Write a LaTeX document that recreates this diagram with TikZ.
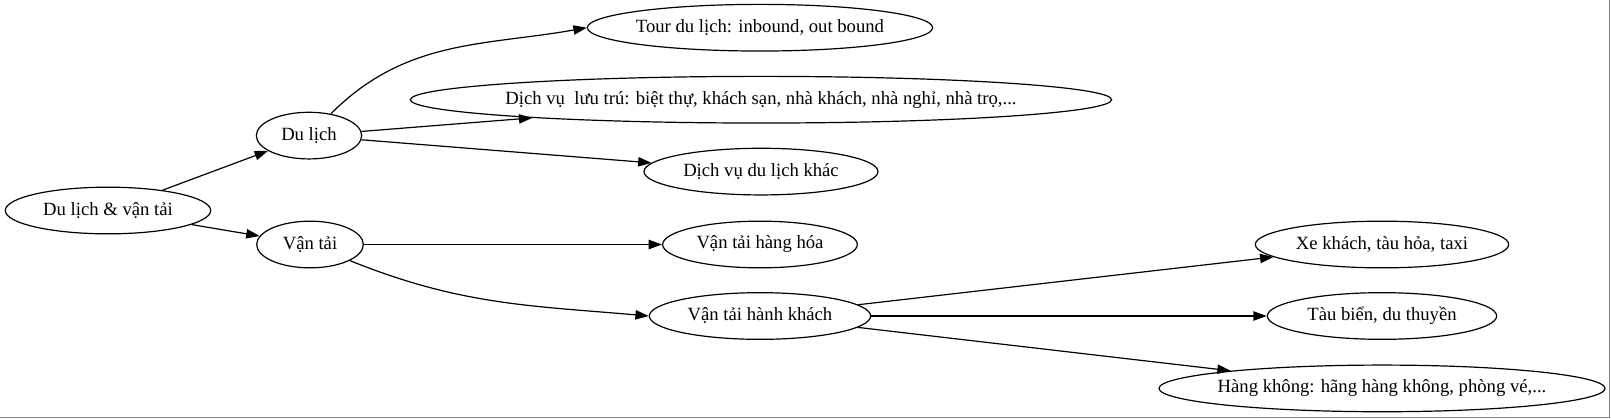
\documentclass[tikz,border=0pt]{standalone}
\usepackage{fontspec}
\setmainfont{Liberation Serif}
\usetikzlibrary{shapes.geometric,arrows.meta}
\tikzset{gnode/.style = {shape = ellipse,
                         color = black,
                         inner xsep=-20pt,
                         inner ysep=0pt,
                         minimum height = 35pt,
                         font=\fontsize{14}{16}\selectfont,
                         line width=0.9pt,
                         draw},
         gedge/.style = {-{Triangle[length=10pt,width=7pt]},
                         line width=0.9pt}}

\begin{document}
\begin{tikzpicture}[x=0.75pt,y=0.75pt]
		\useasboundingbox (0,0) rectangle (1611,-419);
		\draw[gray, line width=1pt] (1609.5,0) -- (1609.5,-417.5) -- (0,-417.5);
		\node[gnode, minimum width=154pt] (dlvt) at (108,-210.5) {Du lịch \& vận tải};
		\node[gnode, minimum width=79pt] (dl) at (309,-135.6) {Du lịch};
		\node[gnode, minimum width=80pt] (vt) at (310,-244.5) {Vận tải};
		\node[gnode, minimum width=259pt] (tour) at (760,-27.7) {Tour du lịch: inbound, out bound};
		\node[gnode, minimum width=526pt] (luutru) at (761,-99.7) {Dịch vụ\ \ lưu trú: biệt thự, khách sạn, nhà khách, nhà nghỉ, nhà trọ,...};
		\node[gnode, minimum width=175.5pt] (dvkhac) at (761,-171.6) {Dịch vụ du lịch khác};
		\node[gnode, minimum width=146pt] (hanghoa) at (760,-244.5) {Vận tải hàng hóa};
		\node[gnode, minimum width=166pt] (hanhkhach) at (760,-316) {Vận tải hành khách};
		\node[gnode, minimum width=190pt] (xekhach) at (1382,-244.5) {Xe khách, tàu hỏa, taxi};
		\node[gnode, minimum width=172pt] (taubien) at (1382,-316) {Tàu biển, du thuyền};
		\node[gnode, minimum width=334.5pt] (hangkhong) at (1382,-388.4) {Hàng không: hãng hàng không, phòng vé,...};
		\path[gedge] (dlvt) edge (dl);
		\path[gedge] (dlvt) edge (vt);
		\path[gedge] (dl) edge[out=45, in=190] (tour.west);
		\path[gedge] (dl) edge (luutru);
		\path[gedge] (dl) edge (dvkhac);
		\path[gedge] (vt) edge (hanghoa);
		\path[gedge] (vt) edge[out=-22, in=175] (hanhkhach.west);
		\path[gedge] (hanhkhach) edge (xekhach);
		\path[gedge] (hanhkhach) edge (taubien);
		\path[gedge] (hanhkhach) edge (hangkhong);
	\end{tikzpicture}
\end{document}
